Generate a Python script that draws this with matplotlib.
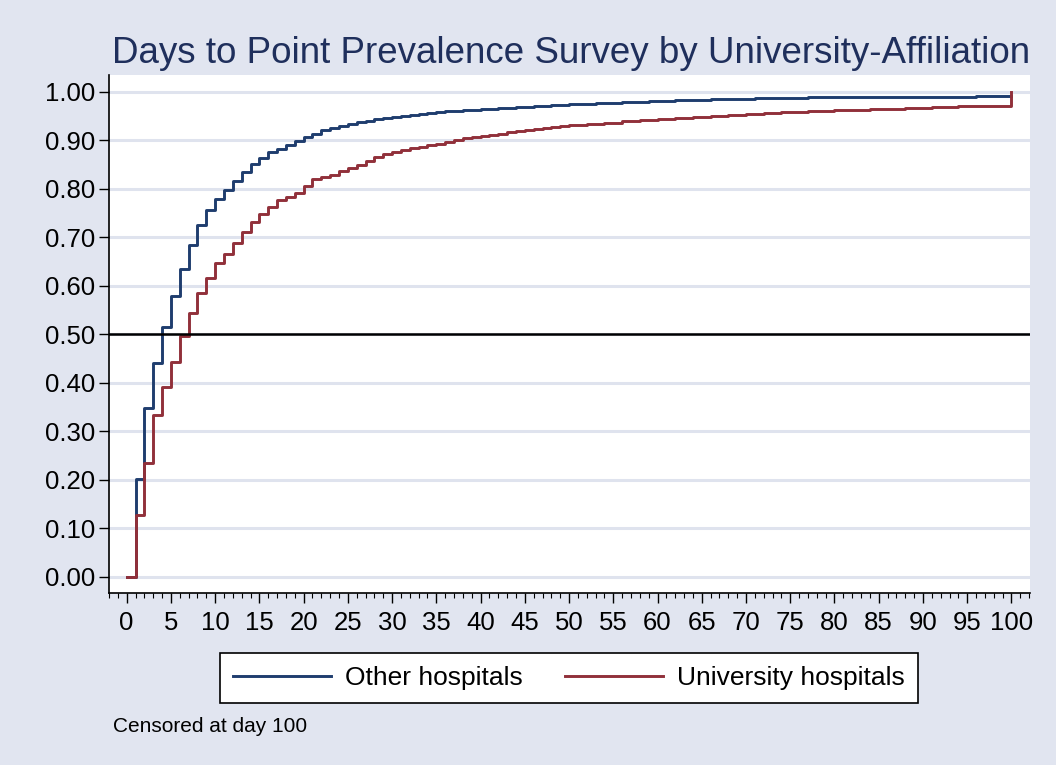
import numpy as np
import matplotlib.pyplot as plt
from matplotlib.ticker import MultipleLocator, FormatStrFormatter

plt.rcParams['font.family'] = ['Liberation Sans', 'DejaVu Sans']

# failure curves (day where the step happens, new value)
other_days = [0, 1, 2, 3, 4, 5, 6, 7, 8, 9, 10, 11, 12, 13, 14, 15, 16, 17, 18, 19,
              20, 21, 22, 23, 24, 25, 26, 27, 28, 29, 30, 31, 32, 33, 34, 35, 36, 38,
              40, 42, 44, 46, 48, 50, 53, 56, 59, 62, 66, 71, 77, 86, 96, 100]
other_vals = [0.0, 0.202, 0.348, 0.441, 0.515, 0.578, 0.635, 0.685, 0.726, 0.756,
              0.779, 0.797, 0.816, 0.834, 0.851, 0.864, 0.876, 0.883, 0.890, 0.898,
              0.906, 0.914, 0.921, 0.925, 0.930, 0.934, 0.938, 0.941, 0.944, 0.947,
              0.949, 0.951, 0.953, 0.955, 0.957, 0.959, 0.961, 0.963, 0.965, 0.967,
              0.969, 0.971, 0.973, 0.975, 0.977, 0.979, 0.981, 0.983, 0.985, 0.987,
              0.989, 0.990, 0.992, 0.992]

univ_days = [0, 1, 2, 3, 4, 5, 6, 7, 8, 9, 10, 11, 12, 13, 14, 15, 16, 17, 18, 19,
             20, 21, 22, 23, 24, 25, 26, 27, 28, 29, 30, 31, 32, 33, 34, 35, 36, 37,
             38, 39, 40, 41, 42, 43, 44, 45, 46, 47, 48, 49, 50, 52, 54, 56, 58, 60,
             62, 64, 66, 68, 70, 72, 74, 77, 80, 84, 88, 91, 94, 97, 100]
univ_vals = [0.0, 0.128, 0.235, 0.334, 0.392, 0.443, 0.497, 0.544, 0.585, 0.616,
             0.646, 0.665, 0.689, 0.710, 0.732, 0.748, 0.762, 0.776, 0.783, 0.792,
             0.805, 0.820, 0.824, 0.828, 0.837, 0.843, 0.850, 0.858, 0.866, 0.872,
             0.877, 0.881, 0.884, 0.887, 0.890, 0.893, 0.897, 0.901, 0.905, 0.908,
             0.910, 0.912, 0.914, 0.917, 0.919, 0.921, 0.923, 0.925, 0.927, 0.929,
             0.931, 0.933, 0.936, 0.939, 0.942, 0.945, 0.947, 0.949, 0.951, 0.953,
             0.954, 0.956, 0.958, 0.960, 0.962, 0.964, 0.966, 0.968, 0.970, 0.972, 1.0]

bg = '#e1e5f0'
navy = '#1f3d6e'
maroon = '#91303a'

fig = plt.figure(figsize=(10.56, 7.65), dpi=100, facecolor=bg)
ax = fig.add_axes([0.1032, 0.2248, 0.8722, 0.6772])
ax.set_facecolor('white')

for v in np.arange(0, 1.01, 0.1):
    ax.axhline(v, color='#dfe3ee', lw=2.2, zorder=0)

ax.step(other_days, other_vals, where='post', color=navy, lw=2.1, label='Other hospitals', zorder=3)
ax.step(univ_days, univ_vals, where='post', color=maroon, lw=2.1, label='University hospitals', zorder=3)
ax.axhline(0.5, color='black', lw=1.8, zorder=4)

ax.set_xlim(-2.0, 102.1)
ax.set_ylim(-0.034, 1.035)
ax.xaxis.set_major_locator(MultipleLocator(5))
ax.xaxis.set_minor_locator(MultipleLocator(1))
ax.yaxis.set_major_locator(MultipleLocator(0.1))
ax.yaxis.set_major_formatter(FormatStrFormatter('%.2f'))
ax.tick_params(axis='both', which='major', length=7, width=1, labelsize=18.5, pad=3)
ax.tick_params(axis='x', which='minor', length=3.5, width=0.8)
ax.tick_params(axis='x', which='major', pad=6)

for s in ['top', 'right']:
    ax.spines[s].set_visible(False)
for s in ['left', 'bottom']:
    ax.spines[s].set_linewidth(1.2)

fig.text(0.5405, 0.918, 'Days to Point Prevalence Survey by University-Affiliation',
         ha='center', va='baseline', fontsize=26.5, color='#1f2f5c')

leg = fig.legend(loc='center', bbox_to_anchor=(0.539, 0.1137), ncol=2, fontsize=19,
                 frameon=True, fancybox=False, edgecolor='black', facecolor='white',
                 framealpha=1, handlelength=3.7, handletextpad=0.55,
                 columnspacing=1.6, borderpad=0.5)
leg.get_frame().set_linewidth(1.2)

fig.text(0.107, 0.0497, 'Censored at day 100', fontsize=15, va='center')

fig.savefig('out.png', dpi=100, facecolor=bg)
